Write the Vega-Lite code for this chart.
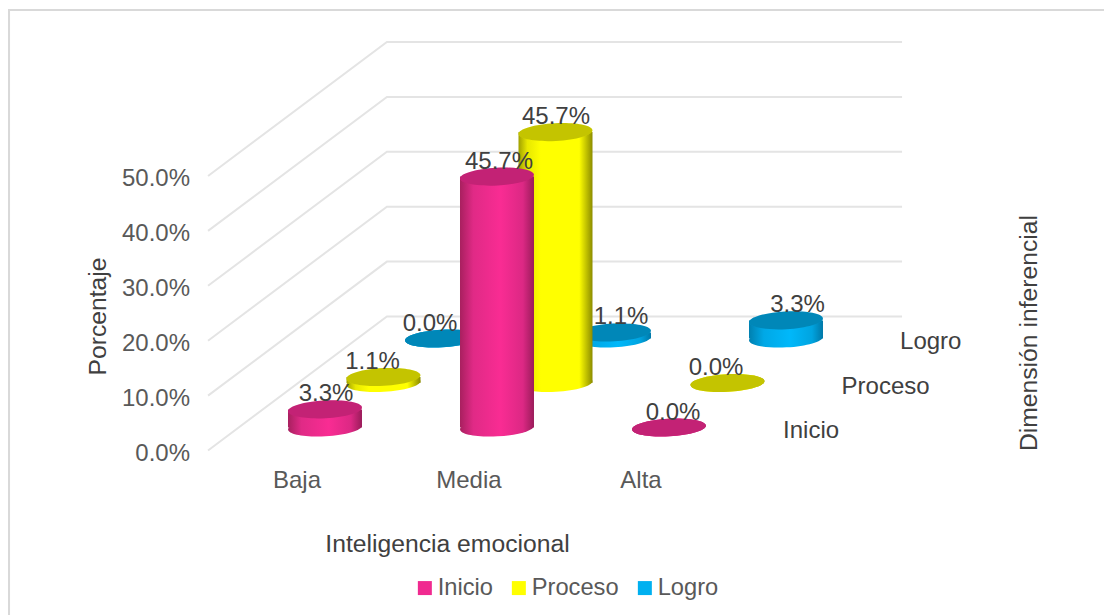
{
"$schema":"https://vega.github.io/schema/vega-lite/v6.json",
"width":1104,"height":615,"autosize":"none","padding":0,"background":"white",
"config":{"view":{"stroke":null},"font":"Liberation Sans"},
"datasets":{
"bars":[
{"cat":"Baja","ser":"Inicio","value":3.3},{"cat":"Media","ser":"Inicio","value":45.7},{"cat":"Alta","ser":"Inicio","value":0.0},
{"cat":"Baja","ser":"Proceso","value":1.1},{"cat":"Media","ser":"Proceso","value":45.7},{"cat":"Alta","ser":"Proceso","value":0.0},
{"cat":"Baja","ser":"Logro","value":0.0},{"cat":"Media","ser":"Logro","value":1.1},{"cat":"Alta","ser":"Logro","value":3.3}],
"grid":[
{"level":0,"corner":"front"},{"level":0,"corner":"back"},{"level":0,"corner":"end"},
{"level":10,"corner":"front"},{"level":10,"corner":"back"},{"level":10,"corner":"end"},
{"level":20,"corner":"front"},{"level":20,"corner":"back"},{"level":20,"corner":"end"},
{"level":30,"corner":"front"},{"level":30,"corner":"back"},{"level":30,"corner":"end"},
{"level":40,"corner":"front"},{"level":40,"corner":"back"},{"level":40,"corner":"end"},
{"level":50,"corner":"front"},{"level":50,"corner":"back"},{"level":50,"corner":"end"}],
"tags":[
{"text":"Baja","kind":"cat"},{"text":"Media","kind":"cat"},{"text":"Alta","kind":"cat"},
{"text":"Inicio","kind":"ser"},{"text":"Proceso","kind":"ser"},{"text":"Logro","kind":"ser"},
{"text":"Dimensión inferencial","kind":"title"}]
},
"encoding":{
"x":{"field":"xp","type":"quantitative","scale":{"domain":[-1.8895,4.5291],"zero":false,"nice":false},
 "axis":{"title":"Inteligencia emocional","labels":false,"ticks":false,"domain":false,"grid":false,"titleX":447,"titleY":-71,"titleFontSize":24.7,"titleFontWeight":"normal","titleColor":"#404040","titleFont":"Liberation Sans","titleBaseline":"middle","titleAnchor":"middle","titleAlign":"center"}},
"y":{"field":"yp","type":"quantitative","scale":{"domain":[-34.153,77.869],"zero":false,"nice":false},
 "axis":{"title":"Porcentaje","labels":false,"ticks":false,"domain":false,"grid":false,"titleX":98,"titleY":316,"titleAngle":-90,"titleFontSize":24.7,"titleFontWeight":"normal","titleColor":"#404040","titleFont":"Liberation Sans","titleBaseline":"middle","titleAnchor":"middle","titleAlign":"center"}}
},
"layer":[
{"data":{"values":[{"i":0},{"i":1},{"i":2}]},
 "transform":[
  {"calculate":"[-1.837,-1.837,4.6][datum.i]","as":"xp"},
  {"calculate":"[-36,76.05,76.05][datum.i]","as":"yp"}],
 "mark":{"type":"line","stroke":"#d9d9d9","strokeWidth":2},
 "encoding":{"order":{"field":"i","type":"quantitative"}}},
{"data":{"name":"grid"},
 "transform":[
  {"calculate":"datum.corner=='front'?-0.68:datum.corner=='back'?0.36:3.355","as":"xp"},
  {"calculate":"datum.level+(datum.corner=='front'?-4.19:20.22)","as":"yp"},
  {"calculate":"format(datum.level/100,'.1%')","as":"tick"}],
 "layer":[
  {"mark":{"type":"line","stroke":"#e4e4e4","strokeWidth":2},"encoding":{"detail":{"field":"level"}}},
  {"transform":[{"filter":"datum.corner=='front'"}],
   "mark":{"type":"text","align":"right","baseline":"middle","dx":-18,"dy":3,"fontSize":24,"color":"#595959"},
   "encoding":{"text":{"field":"tick"}}}
 ]},
{"data":{"name":"bars"},
 "transform":[
  {"calculate":"indexof(['Baja','Media','Alta'],datum.cat)","as":"c"},
  {"calculate":"indexof(['Inicio','Proceso','Logro'],datum.ser)","as":"s"},
  {"calculate":"datum.c+datum.s*0.34012","as":"xp"},
  {"calculate":"datum.xp-0.2151","as":"xl"},
  {"calculate":"datum.xp+0.2151","as":"xr"},
  {"calculate":"datum.s*8.106","as":"y0"},
  {"calculate":"datum.value+datum.y0","as":"yp"},
  {"calculate":"datum.xp+[[1,2,4],[-11,0.5,-11.5],[-12,7,11.5]][datum.s][datum.c]/172","as":"lx"},
  {"calculate":"datum.yp+2.73","as":"ly"},
  {"calculate":"format(datum.value/100,'.1%')","as":"lab"}],
 "layer":[
  {"transform":[{"filter":"datum.ser=='Logro'"}],"mark":{"type":"point","shape":"M -1 0 A 1 0.24 0 1 1 1 0 A 1 0.24 0 1 1 -1 0 Z","filled":true,"size":5476,"angle":-3,"opacity":1,"fill":{"gradient":"linear","x1":0,"x2":1,"y1":0,"y2":0,"stops":[{"offset":0,"color":"#0080b0"},{"offset":0.2,"color":"#00a8e6"},{"offset":0.55,"color":"#00b8fa"},{"offset":0.85,"color":"#00a4e0"},{"offset":1,"color":"#0078a8"}]}},"encoding":{"y":{"field":"y0","type":"quantitative"}}},
  {"transform":[{"filter":"datum.ser=='Logro'"}],"mark":{"type":"rect","fill":{"gradient":"linear","x1":0,"x2":1,"y1":0,"y2":0,"stops":[{"offset":0,"color":"#0080b0"},{"offset":0.2,"color":"#00a8e6"},{"offset":0.55,"color":"#00b8fa"},{"offset":0.85,"color":"#00a4e0"},{"offset":1,"color":"#0078a8"}]}},"encoding":{"x":{"field":"xl","type":"quantitative"},"x2":{"field":"xr"},"y2":{"field":"y0"}}},
  {"transform":[{"filter":"datum.ser=='Logro'"}],"mark":{"type":"point","shape":"M -1 0 A 1 0.24 0 1 1 1 0 A 1 0.24 0 1 1 -1 0 Z","filled":true,"size":5476,"angle":-3,"opacity":1},"encoding":{"color":{"field":"ser","type":"nominal","scale":{"domain":["Inicio","Proceso","Logro"],"range":["#f02a90","#ffff00","#00b0f0"]},"legend":{"orient":"none","legendX":413,"legendY":576,"direction":"horizontal","columns":3,"title":null,"symbolType":"square","symbolSize":196,"symbolStrokeWidth":0,"labelFontSize":23.7,"labelColor":"#595959","labelFont":"Liberation Sans","labelOffset":1,"columnPadding":14}}}},
  {"transform":[{"filter":"datum.ser=='Logro'"}],"mark":{"type":"point","shape":"M -1 0 A 1 0.24 0 1 1 1 0 A 1 0.24 0 1 1 -1 0 Z","filled":true,"size":5476,"angle":-3,"opacity":0.23,"fill":"#000000"}},

  {"transform":[{"filter":"datum.ser=='Proceso'"}],"mark":{"type":"point","shape":"M -1 0 A 1 0.24 0 1 1 1 0 A 1 0.24 0 1 1 -1 0 Z","filled":true,"size":5476,"angle":-3,"opacity":1,"fill":{"gradient":"linear","x1":0,"x2":1,"y1":0,"y2":0,"stops":[{"offset":0,"color":"#a0a000"},{"offset":0.12,"color":"#e8e800"},{"offset":0.3,"color":"#ffff00"},{"offset":0.82,"color":"#ffff00"},{"offset":1,"color":"#8c8c00"}]}},"encoding":{"y":{"field":"y0","type":"quantitative"}}},
  {"transform":[{"filter":"datum.ser=='Proceso'"}],"mark":{"type":"rect","fill":{"gradient":"linear","x1":0,"x2":1,"y1":0,"y2":0,"stops":[{"offset":0,"color":"#a0a000"},{"offset":0.12,"color":"#e8e800"},{"offset":0.3,"color":"#ffff00"},{"offset":0.82,"color":"#ffff00"},{"offset":1,"color":"#8c8c00"}]}},"encoding":{"x":{"field":"xl","type":"quantitative"},"x2":{"field":"xr"},"y2":{"field":"y0"}}},
  {"transform":[{"filter":"datum.ser=='Proceso'"}],"mark":{"type":"point","shape":"M -1 0 A 1 0.24 0 1 1 1 0 A 1 0.24 0 1 1 -1 0 Z","filled":true,"size":5476,"angle":-3,"opacity":1},"encoding":{"color":{"field":"ser","type":"nominal"}}},
  {"transform":[{"filter":"datum.ser=='Proceso'"}],"mark":{"type":"point","shape":"M -1 0 A 1 0.24 0 1 1 1 0 A 1 0.24 0 1 1 -1 0 Z","filled":true,"size":5476,"angle":-3,"opacity":0.23,"fill":"#000000"}},

  {"transform":[{"filter":"datum.ser=='Inicio'"}],"mark":{"type":"point","shape":"M -1 0 A 1 0.24 0 1 1 1 0 A 1 0.24 0 1 1 -1 0 Z","filled":true,"size":5476,"angle":-3,"opacity":1,"fill":{"gradient":"linear","x1":0,"x2":1,"y1":0,"y2":0,"stops":[{"offset":0,"color":"#a8205f"},{"offset":0.18,"color":"#e02a86"},{"offset":0.55,"color":"#f92c93"},{"offset":0.85,"color":"#dc2884"},{"offset":1,"color":"#9a1c5a"}]}},"encoding":{"y":{"field":"y0","type":"quantitative"}}},
  {"transform":[{"filter":"datum.ser=='Inicio'"}],"mark":{"type":"rect","fill":{"gradient":"linear","x1":0,"x2":1,"y1":0,"y2":0,"stops":[{"offset":0,"color":"#a8205f"},{"offset":0.18,"color":"#e02a86"},{"offset":0.55,"color":"#f92c93"},{"offset":0.85,"color":"#dc2884"},{"offset":1,"color":"#9a1c5a"}]}},"encoding":{"x":{"field":"xl","type":"quantitative"},"x2":{"field":"xr"},"y2":{"field":"y0"}}},
  {"transform":[{"filter":"datum.ser=='Inicio'"}],"mark":{"type":"point","shape":"M -1 0 A 1 0.24 0 1 1 1 0 A 1 0.24 0 1 1 -1 0 Z","filled":true,"size":5476,"angle":-3,"opacity":1},"encoding":{"color":{"field":"ser","type":"nominal"}}},
  {"transform":[{"filter":"datum.ser=='Inicio'"}],"mark":{"type":"point","shape":"M -1 0 A 1 0.24 0 1 1 1 0 A 1 0.24 0 1 1 -1 0 Z","filled":true,"size":5476,"angle":-3,"opacity":0.19,"fill":"#000000"}},

  {"mark":{"type":"text","align":"center","baseline":"middle","fontSize":24,"color":"#404040"},
   "encoding":{"x":{"field":"lx","type":"quantitative"},"y":{"field":"ly","type":"quantitative"},"text":{"field":"lab"}}}
 ]},
{"data":{"name":"tags"},
 "transform":[
  {"calculate":"datum.kind=='cat'?indexof(['Baja','Media','Alta'],datum.text)-0.163:datum.kind=='ser'?2.663+indexof(['Inicio','Proceso','Logro'],datum.text)*0.34012:4.099","as":"xp"},
  {"calculate":"datum.kind=='cat'?-9.745:datum.kind=='ser'?-0.64+indexof(['Inicio','Proceso','Logro'],datum.text)*8.106:17.2","as":"yp"}],
 "layer":[
  {"transform":[{"filter":"datum.kind=='cat'"}],"mark":{"type":"text","align":"center","baseline":"middle","fontSize":24,"color":"#595959"},"encoding":{"text":{"field":"text"}}},
  {"transform":[{"filter":"datum.kind=='ser'"}],"mark":{"type":"text","align":"left","baseline":"middle","fontSize":24,"color":"#404040"},"encoding":{"text":{"field":"text"}}},
  {"transform":[{"filter":"datum.kind=='title'"}],"mark":{"type":"text","align":"center","baseline":"middle","angle":270,"fontSize":24.7,"color":"#404040"},"encoding":{"text":{"field":"text"}}}
 ]}
]
}
